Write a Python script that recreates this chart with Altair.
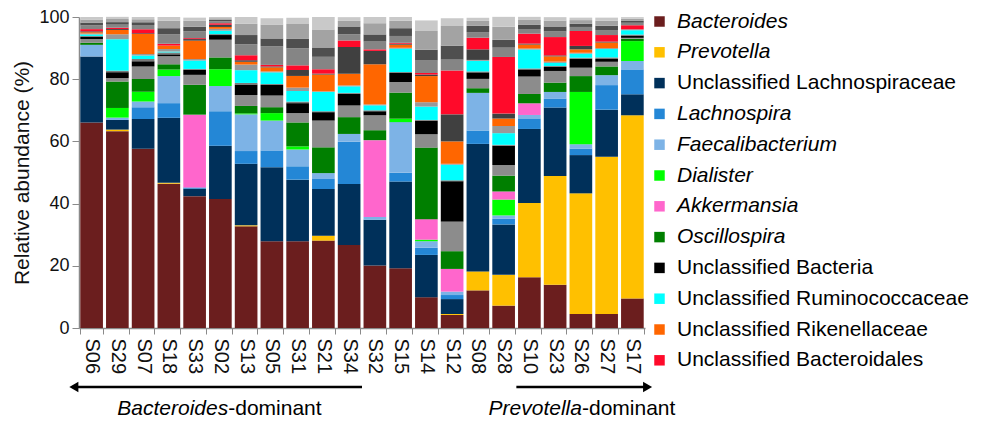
import altair as alt
import pandas as pd

samples = ["S06", "S29", "S07", "S18", "S33", "S02", "S13", "S05", "S31", "S21", "S34",
           "S32", "S15", "S14", "S12", "S08", "S28", "S10", "S23", "S26", "S27", "S17"]

bacteroides = [66.1, 63.3, 57.6, 46.4, 42.4, 41.5, 32.7, 27.9, 27.9, 28.1, 26.7, 20.1, 19.2, 9.9, 4.2, 12.1, 7.2, 16.3, 13.9, 4.5, 4.5, 9.5]
prevotella = [0, 0.5, 0, 0.3, 0, 0, 0.3, 0, 0, 1.6, 0, 0, 0, 0, 0.3, 6.1, 9.9, 23.9, 35.0, 38.8, 50.6, 58.9]
uncl_lachnospiraceae = [21.2, 3.1, 9.6, 20.9, 2.4, 17.1, 19.8, 23.8, 19.8, 15.0, 19.6, 14.7, 27.9, 13.6, 4.8, 41.0, 16.2, 23.8, 22.0, 12.3, 15.1, 6.75]
lachnospira = [0, 0, 3.75, 4.7, 0.4, 11.1, 4.1, 5.4, 4.3, 3.4, 13.6, 0, 2.8, 2.3, 1.3, 4.3, 1.8, 3.4, 2.9, 2.1, 7.9, 8.0]
faecalibacterium = [3.75, 0.75, 1.9, 8.7, 0, 8.1, 11.8, 9.6, 5.4, 1.7, 2.5, 0.9, 16.3, 2.1, 1.1, 12.1, 1.1, 1.1, 2.1, 1.4, 3.2, 2.7]
dialister = [0, 3.1, 3.1, 2.1, 0, 5.4, 0.3, 2.4, 1.0, 0, 0, 0, 1.1, 0.5, 0, 0, 5.1, 0, 0, 16.8, 0, 6.4]
akkermansia = [0, 0, 0, 0, 23.4, 0, 0, 0, 0, 0, 0, 24.7, 0, 6.6, 7.3, 0, 2.6, 3.75, 0, 0, 0, 0]
oscillospira = [0.65, 8.5, 4.1, 1.7, 9.6, 3.8, 2.4, 1.9, 7.7, 8.3, 5.4, 3.2, 8.4, 23.0, 5.7, 1.5, 5.1, 3.0, 3.0, 5.1, 2.8, 0.75]
other_a = [1.2, 1.1, 4.0, 2.6, 3.2, 5.7, 3.5, 3.75, 3.0, 8.6, 3.75, 4.8, 3.4, 4.3, 9.5, 3.0, 3.4, 5.6, 3.75, 2.7, 1.5, 0.3]
uncl_bacteria = [0.7, 1.9, 1.7, 0.6, 1.6, 1.5, 3.4, 3.4, 3.2, 2.7, 3.75, 1.3, 2.9, 4.3, 13.0, 2.1, 6.2, 2.3, 1.3, 2.9, 0.9, 0.75]
other_b = [0.3, 0.5, 0.75, 0.6, 0.3, 0.3, 0.5, 0.3, 0.5, 0.3, 0.3, 0.3, 0.3, 0.3, 0.3, 0.3, 0.3, 0.3, 0.3, 0.3, 0.5, 0.3]
uncl_ruminococcaceae = [0.5, 10.1, 1.1, 0.3, 2.7, 1.1, 4.1, 3.75, 3.4, 6.2, 2.1, 1.6, 7.5, 4.3, 5.0, 3.4, 3.75, 6.1, 1.0, 1.3, 2.7, 1.4]
other_c = [0.3, 1.6, 0.5, 0.8, 0.5, 0.6, 1.8, 0.3, 1.1, 0.2, 0.3, 0.3, 0.3, 1.4, 0.3, 0.3, 2.3, 0.3, 0.4, 0.3, 0.3, 0.3]
uncl_rikenellaceae = [0.4, 1.4, 6.4, 1.1, 5.9, 0.6, 0.9, 1.3, 3.75, 5.4, 3.75, 12.9, 1.0, 8.4, 7.2, 0, 2.4, 1.3, 1.7, 1.1, 1.8, 0]
other_d = [0.3, 0.3, 0.3, 0, 0.5, 0.7, 0.5, 0.3, 1.9, 0.3, 8.6, 4.3, 0.3, 0.5, 8.7, 3.4, 1.6, 0.3, 0.3, 1.1, 0.3, 0]
uncl_bacteroidales = [0.7, 0.4, 1.3, 0.6, 0.3, 0.5, 1.6, 0.5, 1.5, 1.4, 2.1, 0.5, 0.3, 0.5, 14.1, 3.75, 18.2, 3.2, 5.9, 4.8, 2.1, 1.3]
top_a = [1.2, 1.0, 1.3, 3.0, 2.2, 0.6, 3.5, 6.0, 5.5, 4.0, 2.0, 2.5, 2.2, 4.0, 3.5, 1.8, 3.0, 1.5, 1.8, 1.3, 1.6, 0.8]
top_b = [0.9, 0.8, 0.9, 2.0, 1.5, 0.5, 3.0, 2.5, 3.0, 3.0, 2.5, 2.3, 2.5, 3.5, 4.5, 2.0, 2.5, 1.3, 1.6, 1.0, 1.4, 0.6]
top_c = [1.0, 1.0, 1.0, 2.4, 1.9, 0.5, 3.6, 4.5, 4.8, 5.8, 1.8, 3.6, 2.4, 6.0, 6.3, 1.6, 4.2, 1.6, 1.9, 1.2, 1.6, 0.7]
top_d = [0.8, 0.7, 0.7, 1.2, 1.0, 0.4, 2.2, 2.0, 2.0, 4.0, 1.2, 2.0, 1.2, 3.4, 2.5, 1.0, 3.2, 1.0, 1.1, 0.8, 1.0, 0.5]

# stack order bottom -> top
series = [
    ("Bacteroides", bacteroides, "#6b1e1e"),
    ("Prevotella", prevotella, "#ffc000"),
    ("Unclassified Lachnospiraceae", uncl_lachnospiraceae, "#00305a"),
    ("Lachnospira", lachnospira, "#2487d6"),
    ("Faecalibacterium", faecalibacterium, "#7db3e6"),
    ("Dialister", dialister, "#00ff00"),
    ("Akkermansia", akkermansia, "#ff66cc"),
    ("Oscillospira", oscillospira, "#007f00"),
    ("other_a", other_a, "#8c8c8c"),
    ("Unclassified Bacteria", uncl_bacteria, "#000000"),
    ("other_b", other_b, "#7a7a7a"),
    ("Unclassified Ruminococcaceae", uncl_ruminococcaceae, "#00ffff"),
    ("other_c", other_c, "#999999"),
    ("Unclassified Rikenellaceae", uncl_rikenellaceae, "#ff6600"),
    ("other_d", other_d, "#404040"),
    ("Unclassified Bacteroidales", uncl_bacteroidales, "#ff0a2a"),
    ("top_a", top_a, "#858585"),
    ("top_b", top_b, "#4f4f4f"),
    ("top_c", top_c, "#a3a3a3"),
    ("top_d", top_d, "#c9c9c9"),
]

legend_names = ["Bacteroides", "Prevotella", "Unclassified Lachnospiraceae", "Lachnospira",
                "Faecalibacterium", "Dialister", "Akkermansia", "Oscillospira",
                "Unclassified Bacteria", "Unclassified Ruminococcaceae",
                "Unclassified Rikenellaceae", "Unclassified Bacteroidales"]

rows = []
for k, (name, vals, col) in enumerate(series):
    for s, v in zip(samples, vals):
        rows.append({"sample": s, "taxon": name, "value": v, "ord": k})
df = pd.DataFrame(rows)

arrow_start = [-0.2, 17.0]
arrow_end = [11.0, 22.1]
arrow_tip = [-0.2, 22.1]
arrow_shape = ["triangle-left", "triangle-right"]
group_split = [5.8, 19.55]
group_genus = ["Bacteroides", "Prevotella"]
group_suffix = ["-dominant", "-dominant"]

arrows_df = pd.DataFrame({"start": arrow_start, "end": arrow_end})
heads_df = pd.DataFrame({"tip": arrow_tip, "shape": arrow_shape})
text_df = pd.DataFrame({"pos": group_split, "genus": group_genus, "suffix": group_suffix})

FONT = "Liberation Sans"
W, H = 566, 311
qx = alt.Scale(domain=[0, 22])

bars = alt.Chart(df).mark_bar().encode(
    x=alt.X("sample:N", sort=samples,
            scale=alt.Scale(paddingInner=0.12, paddingOuter=0.05),
            axis=alt.Axis(title=None, labelAngle=90, labelFontSize=20, tickBand="extent",
                          labelPadding=4, tickSize=6)),
    y=alt.Y("value:Q", stack="zero", scale=alt.Scale(domain=[0, 100], nice=False),
            axis=alt.Axis(values=[0, 20, 40, 60, 80, 100], title="Relative abundance (%)",
                          grid=False, labelFontSize=18, titleFontSize=21, tickSize=7,
                          labelPadding=3, titlePadding=6)),
    color=alt.Color("taxon:N",
                    scale=alt.Scale(domain=[s[0] for s in series], range=[s[2] for s in series]),
                    legend=alt.Legend(values=legend_names, title=None, orient="none",
                                      legendX=570, legendY=-6, symbolType="square",
                                      symbolSize=110, symbolStrokeWidth=0, labelFontSize=21,
                                      labelFont=FONT, labelLimit=500, rowPadding=8.8,
                                      labelOffset=7,
                                      labelFontStyle=alt.ExprRef(
                                          "indexof(datum.label, 'Unclassified') == 0 ? 'normal' : 'italic'"))),
    order=alt.Order("ord:Q", sort="ascending"),
)

rules = alt.Chart(arrows_df).mark_rule(color="black", strokeWidth=2.5).encode(
    x=alt.X("start:Q", scale=qx, axis=None),
    x2="end:Q",
    y=alt.value(H + 59),
)

heads = alt.Chart(heads_df).mark_point(filled=True, color="black", size=110, opacity=1).encode(
    x=alt.X("tip:Q", scale=qx, axis=None),
    y=alt.value(H + 59),
    shape=alt.Shape("shape:N", scale=None),
)

genus_text = alt.Chart(text_df).mark_text(fontSize=21, font=FONT, fontStyle="italic",
                                          align="right", baseline="middle", color="black").encode(
    x=alt.X("pos:Q", scale=qx, axis=None),
    y=alt.value(H + 81),
    text="genus:N",
)

suffix_text = alt.Chart(text_df).mark_text(fontSize=21, font=FONT, align="left",
                                           baseline="middle", color="black").encode(
    x=alt.X("pos:Q", scale=qx, axis=None),
    y=alt.value(H + 81),
    text="suffix:N",
)

chart = alt.layer(bars, rules, heads, genus_text, suffix_text).resolve_scale(
    x="independent"
).properties(
    width=W, height=H, padding={"left": 3, "top": 0, "right": 0, "bottom": 0}
).configure_view(stroke=None).configure_axis(
    labelFont=FONT, titleFont=FONT, labelColor="#111", titleColor="#111",
    titleFontWeight="normal", domainColor="#8a8a8a", tickColor="#8a8a8a", domainWidth=1.5
)

chart.save("out.html", embed_options={"renderer": "svg", "actions": False})
